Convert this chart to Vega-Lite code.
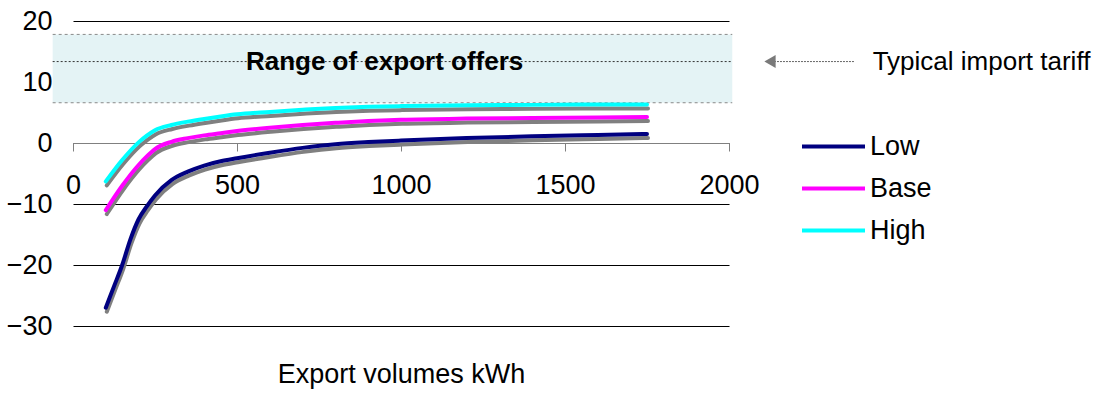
{
  "$schema": "https://vega.github.io/schema/vega-lite/v6.json",
  "autosize": {"type": "none"},
  "width": 656,
  "height": 305,
  "padding": {"left": 73, "top": 21, "right": 377, "bottom": 68},
  "background": "white",
  "config": {
    "view": {"stroke": null},
    "font": "Liberation Sans",
    "axis": {"labelFont": "Liberation Sans", "titleFont": "Liberation Sans", "labelColor": "#000", "titleColor": "#000", "labelFontWeight": "normal", "titleFontWeight": "normal"}
  },
  "datasets": {
    "curves": [
      {"series": "Low", "volume": 100, "value": -27.0},
      {"series": "Low", "volume": 125, "value": -23.5},
      {"series": "Low", "volume": 150, "value": -20.0},
      {"series": "Low", "volume": 175, "value": -15.8},
      {"series": "Low", "volume": 200, "value": -12.5},
      {"series": "Low", "volume": 225, "value": -10.4},
      {"series": "Low", "volume": 250, "value": -8.6},
      {"series": "Low", "volume": 300, "value": -6.1},
      {"series": "Low", "volume": 350, "value": -4.7},
      {"series": "Low", "volume": 400, "value": -3.7},
      {"series": "Low", "volume": 450, "value": -3.0},
      {"series": "Low", "volume": 500, "value": -2.5},
      {"series": "Low", "volume": 600, "value": -1.6},
      {"series": "Low", "volume": 700, "value": -0.8},
      {"series": "Low", "volume": 800, "value": -0.2},
      {"series": "Low", "volume": 900, "value": 0.15},
      {"series": "Low", "volume": 1000, "value": 0.4},
      {"series": "Low", "volume": 1200, "value": 0.8},
      {"series": "Low", "volume": 1400, "value": 1.1},
      {"series": "Low", "volume": 1600, "value": 1.33},
      {"series": "Low", "volume": 1750, "value": 1.48},
      {"series": "Base", "volume": 100, "value": -11.0},
      {"series": "Base", "volume": 150, "value": -7.0},
      {"series": "Base", "volume": 200, "value": -3.6},
      {"series": "Base", "volume": 225, "value": -2.2},
      {"series": "Base", "volume": 250, "value": -1.0},
      {"series": "Base", "volume": 300, "value": 0.2},
      {"series": "Base", "volume": 350, "value": 0.8},
      {"series": "Base", "volume": 400, "value": 1.25},
      {"series": "Base", "volume": 450, "value": 1.6},
      {"series": "Base", "volume": 500, "value": 1.95},
      {"series": "Base", "volume": 600, "value": 2.5},
      {"series": "Base", "volume": 700, "value": 2.95},
      {"series": "Base", "volume": 800, "value": 3.3},
      {"series": "Base", "volume": 900, "value": 3.6},
      {"series": "Base", "volume": 1000, "value": 3.8},
      {"series": "Base", "volume": 1200, "value": 4.0},
      {"series": "Base", "volume": 1400, "value": 4.1},
      {"series": "Base", "volume": 1600, "value": 4.18},
      {"series": "Base", "volume": 1750, "value": 4.25},
      {"series": "High", "volume": 100, "value": -6.3},
      {"series": "High", "volume": 150, "value": -2.8},
      {"series": "High", "volume": 200, "value": 0.1},
      {"series": "High", "volume": 225, "value": 1.2},
      {"series": "High", "volume": 250, "value": 2.1},
      {"series": "High", "volume": 300, "value": 2.95},
      {"series": "High", "volume": 350, "value": 3.5},
      {"series": "High", "volume": 400, "value": 3.95},
      {"series": "High", "volume": 450, "value": 4.35},
      {"series": "High", "volume": 500, "value": 4.7},
      {"series": "High", "volume": 600, "value": 5.1},
      {"series": "High", "volume": 700, "value": 5.45},
      {"series": "High", "volume": 800, "value": 5.75},
      {"series": "High", "volume": 900, "value": 5.95},
      {"series": "High", "volume": 1000, "value": 6.05},
      {"series": "High", "volume": 1200, "value": 6.2},
      {"series": "High", "volume": 1400, "value": 6.25},
      {"series": "High", "volume": 1600, "value": 6.3},
      {"series": "High", "volume": 1750, "value": 6.3}
    ],
    "band": [{"from": -62, "to": 2010, "low": 6.6, "high": 17.8}],
    "bandEdges": [{"from": -62, "to": 2010, "level": 6.6}, {"from": -62, "to": 2010, "level": 17.8}],
    "tariff": [{"from": -62, "to": 2010, "level": 13.35}],
    "arrow": [{"from": 2128, "to": 2383, "level": 13.35, "head": 2125}],
    "labels": [
      {"text": "Range of export offers", "at": 950, "level": 13.35, "kind": "band"},
      {"text": "Typical import tariff", "at": 2438, "level": 13.35, "kind": "tariff"}
    ]
  },
  "layer": [
    {
      "data": {"name": "band"},
      "mark": {"type": "rect", "fill": "#e4f3f5", "stroke": null},
      "encoding": {
        "x": {"field": "from", "type": "quantitative", "scale": {"domain": [0, 2000], "nice": false}, "axis": {"values": [0, 500, 1000, 1500, 2000], "format": "d", "orient": "bottom", "offset": -183, "grid": false, "domainColor": "#808080", "domainWidth": 1, "tickColor": "#808080", "tickSize": 8, "labelFontSize": 27, "labelPadding": 21, "labelFlush": false, "labelOverlap": false, "title": "Export volumes kWh", "titleFontSize": 27, "titleBaseline": "middle", "titleY": 231}},
        "x2": {"field": "to"},
        "y": {"field": "low", "type": "quantitative", "scale": {"domain": [-30, 20], "nice": false}, "axis": {"values": [-30, -20, -10, 0, 10, 20], "domain": false, "ticks": false, "grid": true, "gridColor": "#000", "gridWidth": 1, "gridOpacity": 1, "labelFontSize": 27, "labelPadding": 21, "title": null}},
        "y2": {"field": "high"}
      }
    },
    {
      "data": {"name": "bandEdges"},
      "mark": {"type": "rule", "color": "#8a8a8a", "strokeWidth": 1, "strokeDash": [3, 3]},
      "encoding": {
        "x": {"field": "from", "type": "quantitative"},
        "x2": {"field": "to"},
        "y": {"field": "level", "type": "quantitative"}
      }
    },
    {
      "data": {"name": "tariff"},
      "mark": {"type": "rule", "color": "#333", "strokeWidth": 1, "strokeDash": [2, 2]},
      "encoding": {
        "x": {"field": "from", "type": "quantitative"},
        "x2": {"field": "to"},
        "y": {"field": "level", "type": "quantitative"}
      }
    },
    {
      "data": {"name": "arrow"},
      "mark": {"type": "rule", "color": "#666", "strokeWidth": 1, "strokeDash": [2, 1]},
      "encoding": {
        "x": {"field": "from", "type": "quantitative"},
        "x2": {"field": "to"},
        "y": {"field": "level", "type": "quantitative"}
      }
    },
    {
      "data": {"name": "arrow"},
      "mark": {"type": "point", "shape": "triangle-left", "filled": true, "color": "#7a7a7a", "size": 170, "opacity": 1},
      "encoding": {
        "x": {"field": "head", "type": "quantitative"},
        "y": {"field": "level", "type": "quantitative"}
      }
    },
    {
      "data": {"name": "labels"},
      "transform": [{"filter": "datum.kind === 'band'"}],
      "mark": {"type": "text", "font": "Liberation Sans", "fontWeight": "bold", "fontSize": 26, "align": "center", "baseline": "middle", "color": "#000"},
      "encoding": {
        "x": {"field": "at", "type": "quantitative"},
        "y": {"field": "level", "type": "quantitative"},
        "text": {"field": "text"}
      }
    },
    {
      "data": {"name": "labels"},
      "transform": [{"filter": "datum.kind === 'tariff'"}],
      "mark": {"type": "text", "font": "Liberation Sans", "fontSize": 26, "align": "left", "baseline": "middle", "color": "#000"},
      "encoding": {
        "x": {"field": "at", "type": "quantitative"},
        "y": {"field": "level", "type": "quantitative"},
        "text": {"field": "text"}
      }
    },
    {
      "data": {"name": "curves"},
      "mark": {"type": "line", "color": "#808080", "strokeWidth": 4, "strokeCap": "round", "interpolate": "monotone", "xOffset": 1, "yOffset": 4},
      "encoding": {
        "x": {"field": "volume", "type": "quantitative"},
        "y": {"field": "value", "type": "quantitative"},
        "detail": {"field": "series"}
      }
    },
    {
      "data": {"name": "curves"},
      "mark": {"type": "line", "strokeWidth": 4, "strokeCap": "round", "interpolate": "monotone"},
      "encoding": {
        "x": {"field": "volume", "type": "quantitative"},
        "y": {"field": "value", "type": "quantitative"},
        "color": {"field": "series", "type": "nominal", "scale": {"domain": ["Low", "Base", "High"], "range": ["#000080", "#ff00ff", "#00ffff"]},
          "legend": {"title": null, "orient": "none", "legendX": 747, "legendY": 112, "padding": 0, "symbolType": "M-3,0H3", "symbolSize": 441, "symbolStrokeWidth": 4, "labelFontSize": 27, "labelFont": "Liberation Sans", "labelColor": "#000", "labelOffset": 23, "rowPadding": 14}}
      }
    }
  ]
}
